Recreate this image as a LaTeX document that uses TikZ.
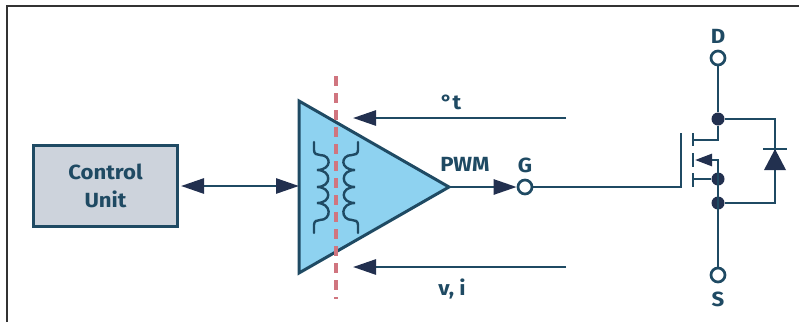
\documentclass[tikz,border=0pt]{standalone}
\usepackage{fontspec}
\setmainfont[FakeStretch=1.08]{Fira Sans}
\usetikzlibrary{arrows.meta}
\definecolor{wire}{HTML}{1F4A63}
\definecolor{tip}{HTML}{22304F}
\definecolor{ampfill}{HTML}{8ED2F0}
\definecolor{boxfill}{HTML}{CDD3DC}
\definecolor{cut}{HTML}{D0757F}
\tikzset{
  x=1pt,y=-1pt,
  wireline/.style={draw=wire,line width=2.7pt},
  fineline/.style={draw=wire,line width=2.4pt},
  sig/.style={wireline,-{Triangle[length=23pt,width=15pt,color=tip]}},
  sigboth/.style={wireline,{Triangle[length=23pt,width=15pt,color=tip]}-{Triangle[length=23pt,width=15pt,color=tip]}},
  terminal/.style={circle,draw=wire,line width=2.7pt,fill=white,minimum size=14pt,inner sep=0pt},
  junction/.style={circle,fill=tip,minimum size=13pt,inner sep=0pt},
  lab/.style={text=wire,font=\bfseries\fontsize{20.5}{28}\selectfont,inner sep=0pt,align=center},
}
\begin{document}
\begin{tikzpicture}
\useasboundingbox (0,0) rectangle (799,322);
% frame
\draw[black!80,line width=1.8pt] (7,322) -- (7,6) -- (799,6);
% control unit
\node[draw=wire,fill=boxfill,line width=3pt,minimum width=144pt,minimum height=81pt,inner sep=0pt,lab] (cu) at (105.5,186) {Control\\Unit};
% amplifier
\coordinate (ampa) at (299,101);
\coordinate (ampb) at (299,273);
\coordinate (ampc) at (449,187);
\filldraw[fill=ampfill,draw=wire,line width=3pt,line join=miter] (ampa) -- (ampc) -- (ampb) -- cycle;
% isolation line
\coordinate (cuttop) at (336,76);
\coordinate (cutbot) at (336,299);
\draw[cut,line width=3.2pt,dash pattern=on 10pt off 7pt] (cuttop) -- (cutbot);
% transformer windings
\draw[fineline,line cap=round] (314,142) -- (314,150) .. controls (314,154) and (317,155) .. (320,155)
  .. controls (332,155) and (332,170) .. (317,170) .. controls (332,170) and (332,187) .. (317,187)
  .. controls (332,187) and (332,203) .. (317,203) .. controls (332,203) and (332,220) .. (320,220)
  .. controls (317,220) and (314,221) .. (314,225) -- (314,233);
\draw[fineline,line cap=round] (358,142) -- (358,150) .. controls (358,154) and (355,155) .. (352,155)
  .. controls (340,155) and (340,170) .. (355,170) .. controls (340,170) and (340,187) .. (355,187)
  .. controls (340,187) and (340,203) .. (355,203) .. controls (340,203) and (340,220) .. (352,220)
  .. controls (355,220) and (358,221) .. (358,225) -- (358,233);
% signal arrows
\draw[sigboth] ([xshift=2pt]cu.east) -- (ampa |- cu.east);
\coordinate (tstart) at (566,118);
\coordinate (tend) at (353,118);
\coordinate (vstart) at (566,267);
\coordinate (vend) at (353,267);
\draw[sig] (tstart) -- (tend);
\draw[sig] (vstart) -- (vend);
\node[terminal] (g) at (525,187) {};
\draw[sig] (ampc) -- (g.west);
% MOSFET terminals and junctions
\node[terminal] (d) at (718,58) {};
\node[terminal] (s) at (718,275) {};
\node[junction] (jd) at (718,119) {};
\node[junction] (js) at (718,203) {};
\node[junction] (jb) at (718,179) {};
\coordinate (gbend) at (681,187);
\coordinate (gtop) at (681,133);
\coordinate (chtopa) at (693,133);
\coordinate (chtopb) at (693,146);
\coordinate (chmida) at (693,153);
\coordinate (chmidb) at (693,167);
\coordinate (chbota) at (693,173);
\coordinate (chbotb) at (693,187);
\draw[wireline] (g.east) -- (gbend) -- (gtop);
\draw[wireline] (chtopa) -- (chtopb);
\draw[wireline] (chmida) -- (chmidb);
\draw[wireline] (chbota) -- (chbotb);
% drain / source stem
\draw[wireline] (d.south) -- (jd.north);
\draw[wireline] (jd) -- (718,140) -- (693,140);
\draw[wireline] (jb) -- (693,179);
\draw[wireline] (718,179) -- (s.north);
\draw[wireline,-{Triangle[length=17pt,width=12pt,color=tip]}] (718,179) -- (718,160) -- (695,160);
% body diode
\coordinate (dtop) at (775,119);
\coordinate (dbot) at (775,203);
\draw[wireline] (jd) -- (dtop) -- (dbot) -- (js);
\fill[tip] (775,149) -- (764,170) -- (786,170) -- cycle;
\draw[wireline] (763,149) -- (787,149);
% labels
\node[lab] (tl) at (451,102) {°t};
\node[lab] (pwm) at (465,164.5) {PWM};
\node[lab] (gl) at (525,165) {G};
\node[lab] (vl) at (452,289) {v, i};
\node[lab] (dl) at (718,36) {D};
\node[lab] (sl) at (718,299) {S};
\end{tikzpicture}
\end{document}
